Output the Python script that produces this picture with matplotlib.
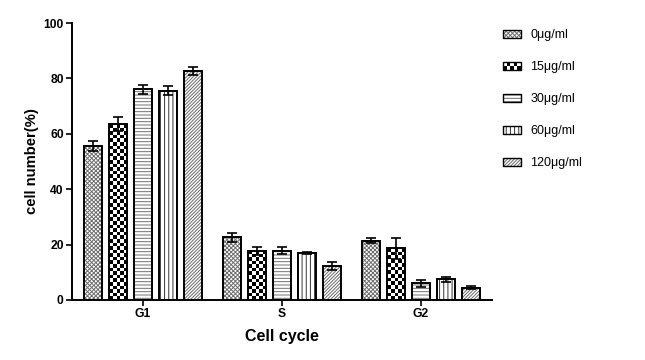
import numpy as np
import matplotlib
matplotlib.use('Agg')
import matplotlib.pyplot as plt
from matplotlib.patches import Rectangle, Patch
from matplotlib.legend_handler import HandlerTuple, HandlerBase

plt.rcParams['font.family'] = ['Liberation Sans', 'DejaVu Sans']
plt.rcParams['hatch.linewidth'] = 0.7

categories = ['G1', 'S', 'G2']
series_labels = ['0μg/ml', '15μg/ml', '30μg/ml', '60μg/ml', '120μg/ml']

mean_0 = [55.6, 22.6, 21.4]
mean_15 = [63.5, 17.7, 18.7]
mean_30 = [76.0, 17.8, 6.0]
mean_60 = [75.6, 17.1, 7.5]
mean_120 = [82.8, 12.2, 4.5]

err_0 = [1.7, 1.7, 1.0]
err_15 = [2.5, 1.4, 3.8]
err_30 = [1.5, 1.3, 1.2]
err_60 = [1.7, 0.4, 0.9]
err_120 = [1.4, 1.4, 0.5]

means = [mean_0, mean_15, mean_30, mean_60, mean_120]
errs = [err_0, err_15, err_30, err_60, err_120]

# styles: (hatch, hatch colour); None hatch = checkerboard
styles = [('xxxxxxxx', '#6e6e6e'), (None, 'black'), ('-----', '#707070'),
          ('||||', '#333333'), ('//////////', '#6a6a6a')]

fig = plt.figure(figsize=(6.45, 3.6), dpi=100)
ax = fig.add_axes([72/645, 1-300/360, (492-72)/645, (300-23)/360])

x = np.arange(len(categories))
step = 0.18
width = 0.13
px_per_unit_y = 277/100.0
px_per_unit_x = 139.0

for i, (m, e) in enumerate(zip(means, errs)):
    pos = x + (i - 2) * step
    hatch, hc = styles[i]
    if hatch is not None:
        ax.bar(pos, m, width, color='white', edgecolor=hc, hatch=hatch, linewidth=0, zorder=2)
    else:
        bars = ax.bar(pos, m, width, color='white', linewidth=0, zorder=2)
        for b in bars:
            x0, w, h = b.get_x(), b.get_width(), b.get_height()
            nx = 5
            ny = max(1, int(round(h * px_per_unit_y / (w * px_per_unit_x / nx))))
            board = np.indices((ny, nx)).sum(axis=0) % 2
            ax.imshow(board, cmap='gray', vmin=0, vmax=1, extent=[x0, x0 + w, 0, h],
                      aspect='auto', interpolation='nearest', zorder=2.1)
    ax.bar(pos, m, width, fill=False, edgecolor='black', linewidth=1.4, zorder=3)
    ax.errorbar(pos, m, yerr=e, fmt='none', ecolor='black', elinewidth=1.2,
                capsize=3.6, capthick=1.2, zorder=4)

ax.set_xlim(-0.51, 2.51)
ax.set_ylim(0, 100)
ax.set_yticks([0, 20, 40, 60, 80, 100])
ax.set_xticks(x)
ax.set_xticklabels(categories)
for sp in ['top', 'right']:
    ax.spines[sp].set_visible(False)
for sp in ['left', 'bottom']:
    ax.spines[sp].set_linewidth(1.4)
ax.tick_params(axis='both', length=4, width=1.2, labelsize=8.7, pad=2)
for lab in ax.get_xticklabels() + ax.get_yticklabels():
    lab.set_fontweight('bold')
ax.set_ylabel('cell number(%)', fontsize=10.7, fontweight='bold', labelpad=3)
ax.set_xlabel('Cell cycle', fontsize=11.5, fontweight='bold', labelpad=6)


class CheckerHandler(HandlerBase):
    def create_artists(self, legend, orig_handle, xdescent, ydescent, width, height, fontsize, trans):
        arts = [Rectangle((-xdescent, -ydescent), width, height, facecolor='white',
                          edgecolor='none', transform=trans)]
        nx, ny = 5, 2
        cw, ch = width / nx, height / ny
        for r in range(ny):
            for c in range(nx):
                if (r + c) % 2 == 0:
                    arts.append(Rectangle((-xdescent + c * cw, -ydescent + r * ch), cw, ch,
                                          facecolor='black', edgecolor='none', transform=trans))
        arts.append(Rectangle((-xdescent, -ydescent), width, height, facecolor='none',
                              edgecolor='black', linewidth=1.0, transform=trans))
        return arts


class CheckerKey:
    pass


handles = []
for i, (hatch, hc) in enumerate(styles):
    if hatch is None:
        handles.append(CheckerKey())
    else:
        handles.append((Patch(facecolor='white', edgecolor=hc, hatch=hatch, linewidth=0),
                        Patch(fill=False, edgecolor='black', linewidth=1.0)))

fig.legend(handles, series_labels, loc='upper left', bbox_to_anchor=(503/645, 1 - 29/360),
           frameon=False, fontsize=9, handlelength=1.4, handleheight=0.6,
           handletextpad=0.8, labelspacing=1.6, borderpad=0, borderaxespad=0,
           handler_map={tuple: HandlerTuple(ndivide=1, pad=0), CheckerKey: CheckerHandler()})

fig.savefig('out.png', dpi=100)
